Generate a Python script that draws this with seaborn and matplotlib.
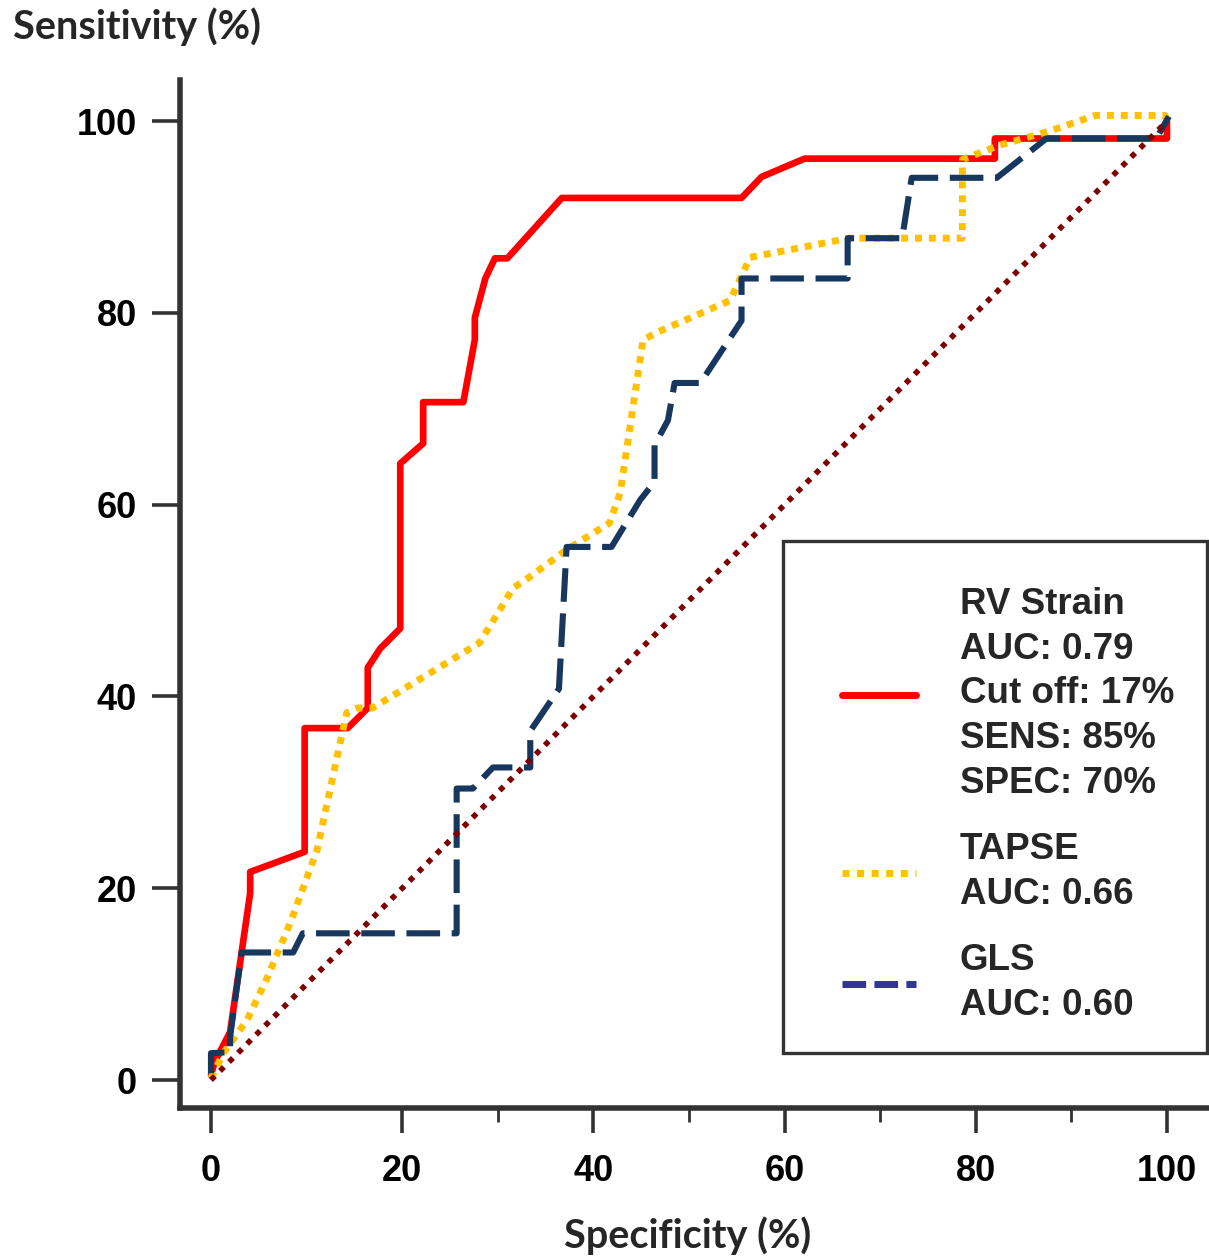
# ROC curves: RV strain vs TAPSE vs GLS
import numpy as np
import pandas as pd
import matplotlib
matplotlib.use("Agg")
import matplotlib.pyplot as plt
import seaborn as sns
from matplotlib.lines import Line2D
from matplotlib.patches import Rectangle
from matplotlib.ticker import FixedLocator

# --------------------------------------------------------------
# Data
# --------------------------------------------------------------
rv_spec = [0, 0.4, 2.0, 4.1, 4.1, 9.8, 9.8, 14.3, 16.4, 16.4, 17.7, 19.8, 19.8,
           22.2, 22.2, 26.4, 27.6, 27.6, 28.7, 29.7, 31.0, 36.7, 55.5, 57.6,
           62.1, 82.0, 82.0, 100, 100]
rv_sens = [0.5, 1.9, 5.0, 19.5, 21.7, 23.8, 36.7, 36.7, 38.8, 43.0, 45.0, 47.1,
           64.3, 66.4, 70.7, 70.7, 77.2, 79.5, 83.6, 85.7, 85.7, 92.0, 92.0,
           94.2, 96.1, 96.1, 98.2, 98.2, 100]

tapse_spec = [0, 1.3, 3.8, 5.9, 8.3, 11.1, 13.8, 14.2, 15.3, 16.9, 28.1, 31.6,
              33.1, 37.2, 41.7, 42.8, 45.2, 46.7, 54.3, 56.4, 66.8, 78.6, 78.6,
              82.5, 87.8, 92.5, 99.8, 100]
tapse_sens = [0.2, 2.8, 6.3, 10.7, 16.4, 24.0, 36.5, 38.3, 38.8, 38.8, 45.6,
              51.3, 52.3, 55.3, 58.1, 61.2, 77.2, 78.0, 81.3, 85.8, 87.8, 87.8,
              96.0, 97.5, 99.0, 100.6, 100.6, 100.2]

gls_spec = [0, 0, 2.0, 2.0, 3.2, 8.6, 9.6, 25.7, 25.7, 27.4, 29.5, 33.4, 33.4,
            36.4, 37.2, 41.9, 44.9, 46.4, 46.4, 47.8, 48.5, 51.2, 55.5, 55.5,
            66.6, 66.6, 72.3, 73.3, 82.2, 87.4, 98.9, 100.2]
gls_sens = [0.7, 2.8, 2.9, 4.5, 13.3, 13.3, 15.3, 15.3, 30.4, 30.4, 32.6, 32.6,
            36.4, 40.8, 55.6, 55.6, 60.5, 62.4, 66.2, 68.8, 72.7, 72.7, 79.2,
            83.6, 83.6, 87.8, 87.8, 94.1, 94.1, 98.2, 98.2, 100.5]

ref_spec = [0, 100]
ref_sens = [0, 100]

labels = [
    "RV Strain\nAUC: 0.79\nCut off: 17%\nSENS: 85%\nSPEC: 70%",
    "TAPSE\nAUC: 0.66",
    "GLS\nAUC: 0.60",
]
x_ticks = [0, 20, 40, 60, 80, 100]
x_minor = [30, 50, 70, 90]
y_ticks = [0, 20, 40, 60, 80, 100]

# --------------------------------------------------------------
# Plot
# --------------------------------------------------------------
sns.set_theme(style="ticks")
plt.rcParams["font.family"] = ["Liberation Sans", "DejaVu Sans"]
plt.rcParams["font.weight"] = "bold"

W, H = 1209, 1260
fig = plt.figure(figsize=(W / 100, H / 100), dpi=100)
ax = fig.add_axes([180 / W, (H - 1108) / H, (W - 180) / W, (1108 - 80) / H])


def draw(spec, sens, **kw):
    df = pd.DataFrame({"spec": spec, "sens": sens})
    sns.lineplot(data=df, x="spec", y="sens", sort=False, estimator=None,
                 ax=ax, legend=False, **kw)


draw(rv_spec, rv_sens, color="#FF0000", linewidth=4.8, zorder=3)
draw(tapse_spec, tapse_sens, color="#FFC000", linewidth=5.0,
     linestyle=(0, (1, 1.0)), zorder=4)
draw(gls_spec, gls_sens, color="#17375E", linewidth=4.4,
     linestyle=(0, (5.5, 1.9)), zorder=5)
draw(ref_spec, ref_sens, color="#7F0000", linewidth=4.0,
     linestyle=(0, (1, 1.3)), zorder=6)

ax.set_xlim(-3.24, 104.4)
ax.set_ylim(-2.92, 104.3)
ax.set_xticks(x_ticks)
ax.set_yticks(y_ticks)
ax.xaxis.set_minor_locator(FixedLocator(x_minor))
ax.set_xlabel("")
ax.set_ylabel("")

for s in ["top", "right"]:
    ax.spines[s].set_visible(False)
for s in ["left", "bottom"]:
    ax.spines[s].set_linewidth(4)
    ax.spines[s].set_color("#333333")

ax.tick_params(axis="x", which="major", length=18, width=2.6, color="#333333",
               pad=15, labelsize=26)
ax.tick_params(axis="x", which="minor", length=10, width=2.0, color="#333333")
ax.tick_params(axis="y", which="major", length=20, width=2.6, color="#333333",
               pad=11, labelsize=26)
for lab in ax.get_xticklabels() + ax.get_yticklabels():
    lab.set_fontweight("bold")
    lab.set_color("black")

# axis titles
fig.text(13 / W, 1 - 27 / H, "Sensitivity (%)", family=["Lato", "DejaVu Sans"],
         fontweight="bold", fontsize=28.5, ha="left", va="center")
fig.text(688 / W, 1 - 1236 / H, "Specificity (%)", family=["Lato", "DejaVu Sans"],
         fontweight="bold", fontsize=28.5, ha="center", va="center")

# legend
handles = [
    Line2D([], [], color="#FF0000", linewidth=5),
    Line2D([], [], color="#FFC000", linewidth=5, linestyle=(0, (1, 1.1))),
    Line2D([], [], color="#333399", linewidth=5, linestyle=(0, (3.4, 1.2))),
]
leg = ax.legend(handles, labels, frameon=False, loc="center left",
                bbox_to_anchor=(842 / W, 1 - 805 / H), bbox_transform=fig.transFigure,
                borderpad=0, borderaxespad=0, handlelength=2.0, handletextpad=1.2,
                labelspacing=0.85, prop={"family": "Liberation Sans",
                                         "weight": "bold", "size": 26.5})
for t in leg.get_texts():
    t.set_linespacing(1.36)

box = Rectangle((783 / W, 1 - 1053 / H), (1207 - 783) / W, (1053 - 541) / H,
                transform=fig.transFigure, fill=False, edgecolor="#333333",
                linewidth=2.4, zorder=10)
fig.patches.append(box)

plt.savefig("out.png", dpi=100)
